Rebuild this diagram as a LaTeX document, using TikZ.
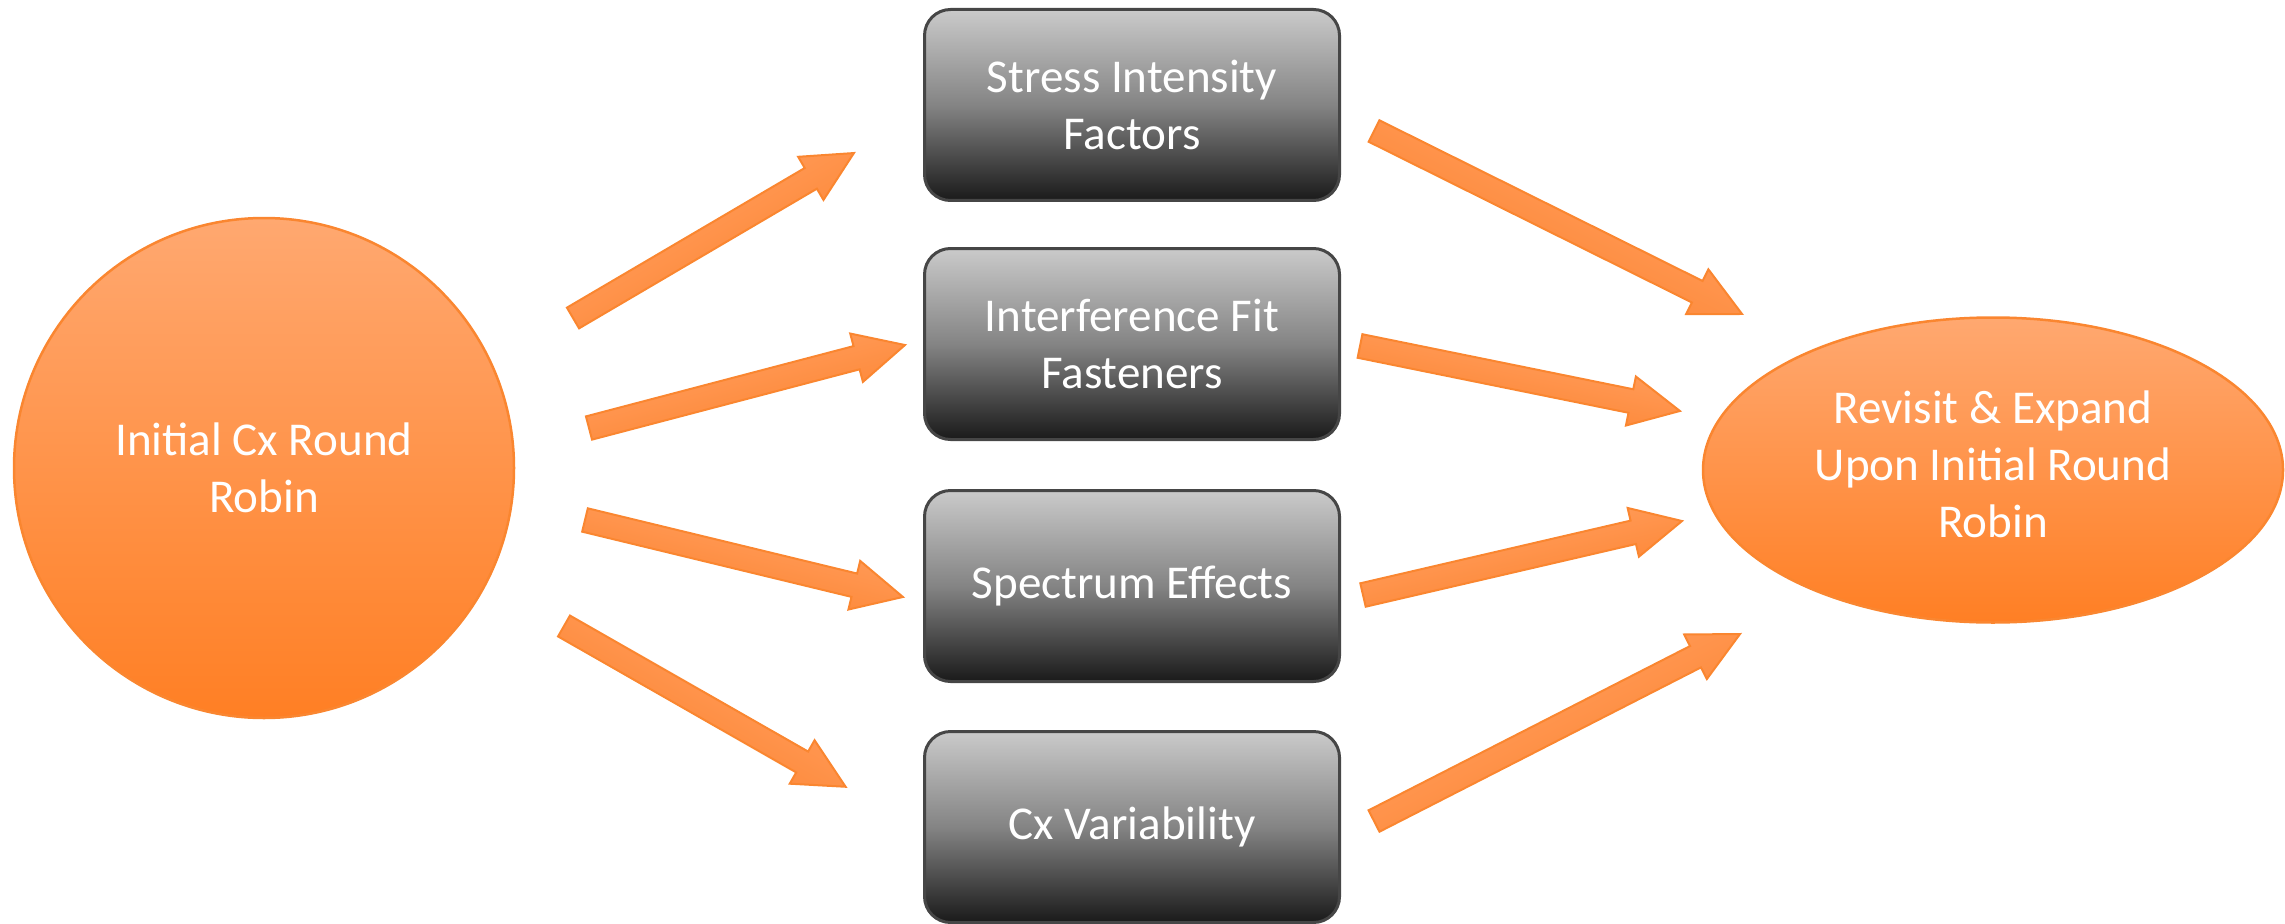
\documentclass[tikz,border=0pt]{standalone}
\usepackage{fontspec}
\setmainfont{Carlito}
\usetikzlibrary{calc,shapes.geometric}

\definecolor{orTop}{RGB}{255,168,112}
\definecolor{orBot}{RGB}{255,127,36}
\definecolor{orLine}{RGB}{250,134,48}
\definecolor{arTop}{RGB}{255,164,104}
\definecolor{arBot}{RGB}{254,128,42}
\definecolor{gTop}{RGB}{202,202,202}
\definecolor{gMid}{RGB}{132,132,132}
\definecolor{gBot}{RGB}{26,26,26}
\definecolor{gLine}{RGB}{70,70,70}

% block arrow geometry
\newcommand{\shaftw}{1.2mm}
\newcommand{\headw}{2.5mm}
\newcommand{\headl}{5mm}

% draws a broad flat arrow from coordinate #1 to coordinate #2,
% its gradient running across the shaft
\newcommand{\blockarrow}[2]{%
  \path let \p1=($(#2)-(#1)$) in
    \pgfextra{\pgfmathsetmacro\tmpAng{atan2(\y1,\x1)}%
              \pgfmathsetmacro\tmpLen{veclen(\x1,\y1)}%
              \xdef\baAng{\tmpAng}\xdef\baLen{\tmpLen}};
  \shade[flowarrow, shading angle=\baAng, shift={(#1)}, rotate=\baAng]
    (0pt,-\shaftw) -- ({\baLen pt-\headl},-\shaftw) -- ({\baLen pt-\headl},-\headw)
    -- (\baLen pt,0pt) -- ({\baLen pt-\headl},\headw) -- ({\baLen pt-\headl},\shaftw)
    -- (0pt,\shaftw) -- cycle;
}

\tikzset{
  label font/.style={font=\fontsize{13.4pt}{16.3pt}\selectfont, text=white, align=center},
  orangeblob/.style={label font, top color=orTop, bottom color=orBot, draw=orLine,
    line width=0.25mm, inner sep=0pt},
  topicbox/.style={label font, rectangle, rounded corners=2.6mm,
    minimum width=41.5mm, minimum height=19.1mm, inner sep=0pt,
    top color=gTop, bottom color=gBot, middle color=gMid,
    draw=gLine, line width=0.3mm},
  flowarrow/.style={top color=arTop, bottom color=arBot, draw=orLine, line width=0.2mm,
    line join=miter},
}

\begin{document}
\begin{tikzpicture}[x=0.1mm, y=-0.1mm]
  \useasboundingbox (0,0) rectangle (2285,923);

  % main shapes
  \node[orangeblob, circle, minimum size=50mm] (init) at (264,468)
    {Initial Cx Round\\Robin};
  \node[orangeblob, ellipse, minimum width=58mm, minimum height=30.5mm,
        text depth=1.2mm] (rev) at (1993,470)
    {Revisit \& Expand\\Upon Initial Round\\Robin};

  \node[topicbox] (sif) at (1132,105) {Stress Intensity\\Factors};
  \node[topicbox] (iff) at (1132,344) {Interference Fit\\Fasteners};
  \node[topicbox] (spe) at (1132,586) {Spectrum Effects};
  \node[topicbox] (cxv) at (1132,827) {Cx Variability};

  % arrow ends
  \coordinate (a1t) at (573,318);   \coordinate (a1h) at (854,153);
  \coordinate (a2t) at (589,428);   \coordinate (a2h) at (905,345);
  \coordinate (a3t) at (585,520);   \coordinate (a3h) at (903,597);
  \coordinate (a4t) at (564,626);   \coordinate (a4h) at (846,787);
  \coordinate (a5t) at (1374,131);  \coordinate (a5h) at (1742,314);
  \coordinate (a6t) at (1360,346);  \coordinate (a6h) at (1680,411);
  \coordinate (a7t) at (1363,595);  \coordinate (a7h) at (1682,521);
  \coordinate (a8t) at (1374,821);  \coordinate (a8h) at (1740,634);

  % arrows from the round robin to the topics
  \blockarrow{a1t}{a1h}
  \blockarrow{a2t}{a2h}
  \blockarrow{a3t}{a3h}
  \blockarrow{a4t}{a4h}
  % arrows from the topics to the follow-up
  \blockarrow{a5t}{a5h}
  \blockarrow{a6t}{a6h}
  \blockarrow{a7t}{a7h}
  \blockarrow{a8t}{a8h}
\end{tikzpicture}
\end{document}
